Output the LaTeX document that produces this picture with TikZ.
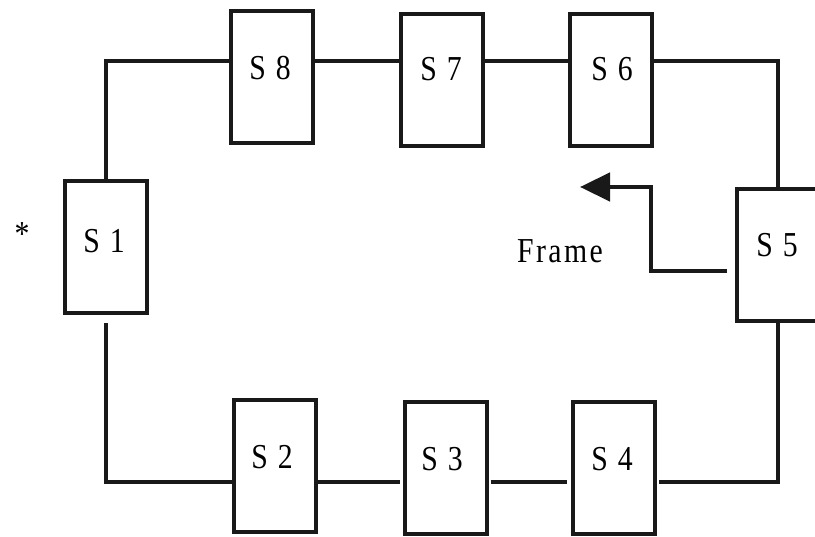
\documentclass[tikz,border=0pt]{standalone}
\usepackage{fontspec}
\setmainfont{Liberation Serif}[FakeStretch=0.85,LetterSpace=7]
\usetikzlibrary{arrows.meta}
\begin{document}
\begin{tikzpicture}[x=1pt,y=-1pt,
  stn/.style={draw=black!90,line width=4pt,minimum width=82pt,minimum height=132pt,inner sep=0pt},
  lab/.style={font=\fontsize{35}{37}\selectfont,inner sep=0pt},
  wire/.style={line width=4.5pt,black!90}]
\useasboundingbox (0,0) rectangle (815,537);
% stations
\node[stn] (S8) at (272,77) {};
\node[stn] (S7) at (442,80.5) {};
\node[stn] (S6) at (611,80.5) {};
\node[stn] (S1) at (106,247.5) {};
\node[stn] (S5) at (778,255.5) {};
\node[stn] (S2) at (275,466.5) {};
\node[stn] (S3) at (445.5,468) {};
\node[stn] (S4) at (614,468) {};
% labels
\node[lab] (L8) at (270,68) {S 8};
\node[lab] (L7) at (441,69) {S 7};
\node[lab] (L6) at (612,69) {S 6};
\node[lab] (L1) at (104,241) {S 1};
\node[lab] (L5) at (777,245) {S 5};
\node[lab] (L2) at (272,457) {S 2};
\node[lab] (L3) at (442,459) {S 3};
\node[lab] (L4) at (612,459) {S 4};
\node[lab] (F) at (560,251) {Frame};
\node[lab] (star) at (22,234) {*};
% ring
\coordinate (t) at (105,61);
\coordinate (b) at (104,482);
\draw[wire] (S1.north) -- (S1.north|-t) -- (S8.west|-t);
\draw[wire] (S8.east|-t) -- (S7.west|-t);
\draw[wire] (S7.east|-t) -- (S6.west|-t);
\draw[wire] (S6.east|-t) -- (S5.north|-t) -- (S5.north);
\draw[wire,shorten <=8pt] (S1.south) -- (S1.south|-b) -- (S2.west|-b);
\draw[wire,shorten >=3pt] (S2.east|-b) -- (S3.west|-b);
\draw[wire,shorten <=2pt,shorten >=4pt] (S3.east|-b) -- (S4.west|-b);
\draw[wire,shorten <=2pt] (S4.east|-b) -- (S5.south|-b) -- (S5.south);
% frame arrow
\coordinate (a0) at (727,271);
\coordinate (a1) at (651,187);
\coordinate (a2) at (580,187);
\draw[wire,-{Triangle[length=30pt,width=28pt]}] (a0) -| (a1) -- (a2);
\end{tikzpicture}
\end{document}
